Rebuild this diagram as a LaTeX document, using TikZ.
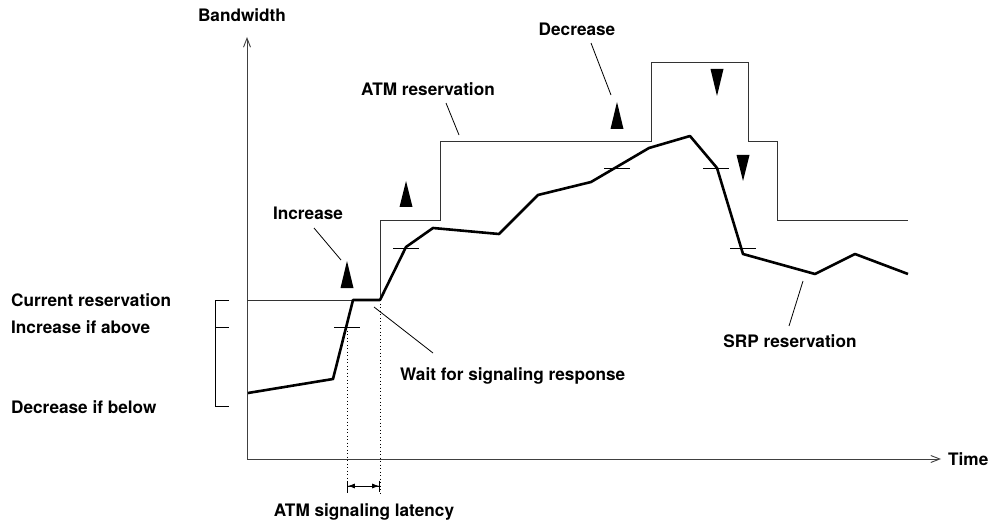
\documentclass[tikz,border=0pt]{standalone}
\usepackage{fontspec}
\setmainfont{TeX Gyre Heros}
\usetikzlibrary{arrows.meta}
\tikzset{%
>={Straight Barb[length=9pt,width=7pt]},
  % Specifications for style of lines and labels:
            txt/.style = {font=\bfseries\fontsize{17.2}{20}\selectfont,
                            inner sep=0pt, anchor=base},
            axis/.style = {line width=0.9pt, black!75},
            atm/.style = {line width=1pt, black!80},
            srp/.style = {line width=2.6pt, line join=round},
            lead/.style = {line width=0.8pt},
            thr/.style = {line width=0.9pt},
            dots/.style = {line width=0.8pt, dash pattern=on 1pt off 2.5pt},
            flag/.style = {fill=black}
}

\begin{document}
\begin{tikzpicture}[x=1pt, y=-1pt]
                \useasboundingbox (0,0) rectangle (989,524);

                % axes
                \coordinate (o) at (247,459);
                \coordinate (ytop) at (247,37);
                \coordinate (xend) at (941,459);
                \draw[axis,->] (o) -- (ytop);
                \draw[axis,->] (o) -- (xend);
                \node[txt] (bw) at (242,22) {Bandwidth};
                \node[txt, anchor=base west] (time) at (948,465) {Time};

                % thresholds
                \node[txt, anchor=base west] (cur) at (11,306) {Current reservation};
                \node[txt, anchor=base west] (incab) at (11,333) {Increase if above};
                \node[txt, anchor=base west] (decbl) at (11,413) {Decrease if below};
                \draw[thr] (229,300) -- (215,300) -- (215,406) -- (229,406);
                \draw[thr] (215,327) -- (229,327);

                % ATM reservation
                \draw[atm] (247,300) -- (380,300) -- (380,221) -- (440,221)
                    -- (440,142) -- (651,142) -- (651,63) -- (748,63)
                    -- (748,142) -- (777,142) -- (777,221) -- (908,221);

                % SRP reservation
                \draw[srp] (248,393) -- (333,379) -- (353,300) -- (380,300)
                    -- (406,247) -- (433,228) -- (499,234) -- (538,195)
                    -- (591,182) -- (649,148) -- (690,136) -- (717,168)
                    -- (743,254) -- (815,274) -- (855,254) -- (908,274);

                \foreach \x/\y in {347/327, 406/248, 617/168, 716/168, 743/248}
                    \draw[thr] (\x-13,\y) -- (\x+13,\y);

                \foreach \x/\b/\t in {347/288/261, 406/207/181, 617/129/102,
                                      717/69/96, 743/155/181}
                    \fill[flag] (\x-6.5,\b) -- (\x,\t) -- (\x+6.5,\b) -- cycle;

                % latency
                \coordinate (la) at (347,327);
                \coordinate (lb) at (380,300);
                \coordinate (la2) at (347,494);
                \coordinate (lb2) at (380,494);
                \draw[dots] (la) -- (la2);
                \draw[dots] (lb) -- (lb2);
                \coordinate (arrA) at (347,486);
                \coordinate (arrB) at (380,486);
                \draw[line width=0.8pt, {Bar[width=11pt]Latex[length=7pt,width=5pt]}-{Latex[length=7pt,width=5pt]Bar[width=11pt]}]
                    (arrA) -- (arrB);
                \node[txt] (lat) at (364,516) {ATM signaling latency};

                % labels with leaders
                \node[txt] (incr) at (308,220) {Increase};
                \coordinate (incA) at (314,228);
                \coordinate (incB) at (341,260);
                \draw[lead] (incA) -- (incB);

                \node[txt] (atmr) at (428,96) {ATM reservation};
                \coordinate (atmA) at (446,103);
                \coordinate (atmB) at (459,135);
                \draw[lead] (atmA) -- (atmB);

                \node[txt] (decr) at (577,36) {Decrease};
                \coordinate (decA) at (591,43);
                \coordinate (decB) at (611,95);
                \draw[lead] (decA) -- (decB);

                \node[txt, anchor=base west] (wait) at (400,380) {Wait for signaling response};
                \coordinate (waitA) at (374,307);
                \coordinate (waitB) at (433,353);
                \draw[lead] (waitA) -- (waitB);

                \node[txt] (srpr) at (790,347) {SRP reservation};
                \coordinate (srpA) at (803,281);
                \coordinate (srpB) at (789,326);
                \draw[lead] (srpA) -- (srpB);

            \end{tikzpicture}
\end{document}
